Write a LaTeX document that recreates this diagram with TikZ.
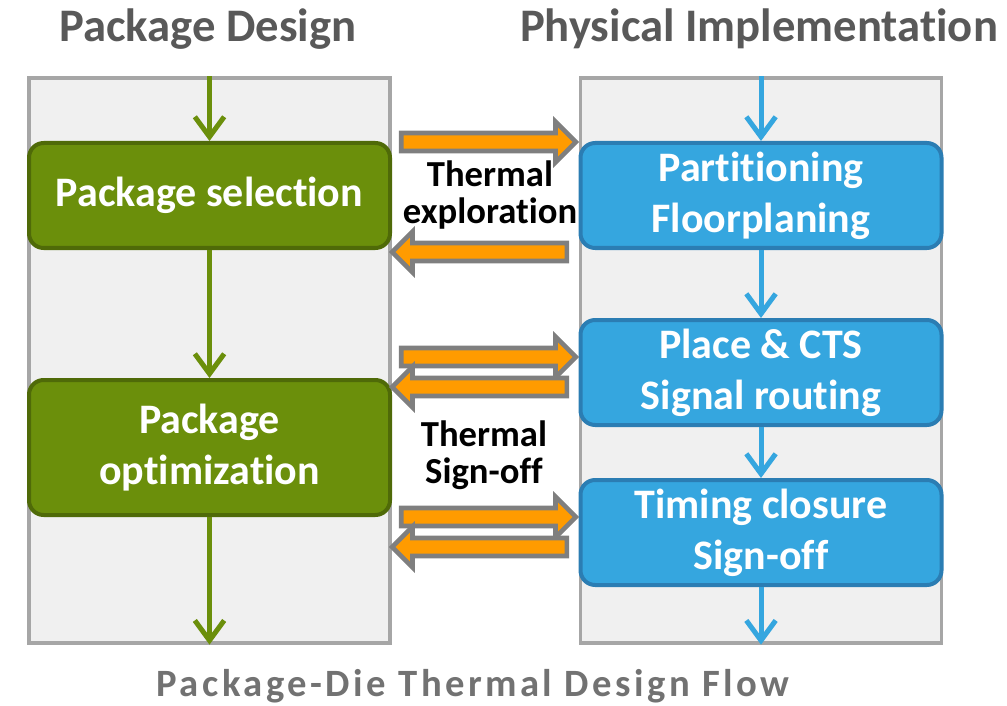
\documentclass[tikz,border=0pt]{standalone}
\usepackage{fontspec}
\setmainfont[Ligatures=NoCommon]{Carlito}
\newfontfamily\capfont[LetterSpace=9,Ligatures=NoCommon]{Carlito}
\usetikzlibrary{arrows.meta,shapes.arrows}

\definecolor{pkggreen}{HTML}{6B8F0B}
\definecolor{pkgedge}{HTML}{4F6A08}
\definecolor{phyblue}{HTML}{35A6DF}
\definecolor{phyedge}{HTML}{2B7DB3}
\definecolor{panelfill}{HTML}{F0F0F0}
\definecolor{paneledge}{HTML}{A6A6A6}
\definecolor{thermorange}{HTML}{FF9B00}
\definecolor{thermedge}{HTML}{7F7F7F}
\definecolor{titlegray}{HTML}{595959}

\tikzset{
  panel/.style={draw=paneledge, fill=panelfill, line width=2.5pt,
    minimum width=270.75pt, minimum height=423.75pt, inner sep=0},
  stepbox/.style={rounded corners=11pt, line width=3pt, text=white,
    font=\fontsize{31.5}{38}\selectfont\bfseries, align=center,
    minimum width=270.75pt, inner sep=0},
  pkgbox/.style={stepbox, draw=pkgedge, fill=pkggreen},
  phybox/.style={stepbox, draw=phyedge, fill=phyblue},
  flow/.style={line width=3.75pt, -{Straight Barb[length=15pt,width=22pt,line width=3.75pt]}},
  thermal/.style={shape=single arrow, draw=thermedge, fill=thermorange,
    line width=3.5pt, minimum height=131pt, single arrow head extend=8.5pt,
    single arrow head indent=0pt, inner sep=5pt, text height=0pt, text depth=0pt},
  therm label/.style={font=\fontsize{27.5}{28}\selectfont\bfseries, align=center},
  head/.style={font=\fontsize{35}{38}\selectfont\bfseries, text=titlegray}
}

\begin{document}
\begin{tikzpicture}[x=0.75pt, y=-0.75pt]
  \useasboundingbox (0,0) rectangle (1007,706);

  % columns
  \node[panel] (pkgpanel) at (209.5,360.5) {};
  \node[panel] (phypanel) at (761,360.5) {};

  \node[head] (pkghead) at (208,29) {Package Design};
  \node[head] (phyhead) at (759,29) {Physical Implementation};

  % package side
  \node[pkgbox, minimum height=78.75pt] (pkgsel) at (209.5,195.5) {Package selection};
  \node[pkgbox, minimum height=101.25pt] (pkgopt) at (209.5,447.5) {Package\\optimization};

  % die side
  \node[phybox, minimum height=78.75pt] (part)   at (761,195.5) {Partitioning\\Floorplaning};
  \node[phybox, minimum height=78.75pt] (place)  at (761,372.5) {Place \& CTS\\Signal routing};
  \node[phybox, minimum height=78.75pt] (timing) at (761,532.5) {Timing closure\\Sign-off};

  \draw[flow, pkggreen] (pkgpanel.north) -- (pkgsel.north);
  \draw[flow, pkggreen] (pkgsel.south) -- (pkgopt.north);
  \draw[flow, pkggreen] (pkgopt.south) -- (pkgpanel.south);

  \draw[flow, phyblue] (phypanel.north) -- (part.north);
  \draw[flow, phyblue] (part.south) -- (place.north);
  \draw[flow, phyblue] (place.south) -- (timing.north);
  \draw[flow, phyblue] (timing.south) -- (phypanel.south);

  % thermal hand-off arrows
  \node[thermal] (explto)   at (484,142) {};
  \node[thermal, shape border rotate=180] (explfrom) at (484,252) {};
  \node[thermal] (signto1)   at (484,357) {};
  \node[thermal, shape border rotate=180] (signfrom1) at (484,387) {};
  \node[thermal] (signto2)   at (484,517) {};
  \node[thermal, shape border rotate=180] (signfrom2) at (484,547) {};

  \node[therm label] (expl) at (490,195) {Thermal\\exploration};
  \node[therm label] (sign) at (484,455) {Thermal\\Sign-off};

  \node[font=\capfont\fontsize{29}{30}\selectfont\bfseries, text=titlegray!85!white] (caption) at (473,686)
    {Package-Die Thermal Design Flow};
\end{tikzpicture}
\end{document}
